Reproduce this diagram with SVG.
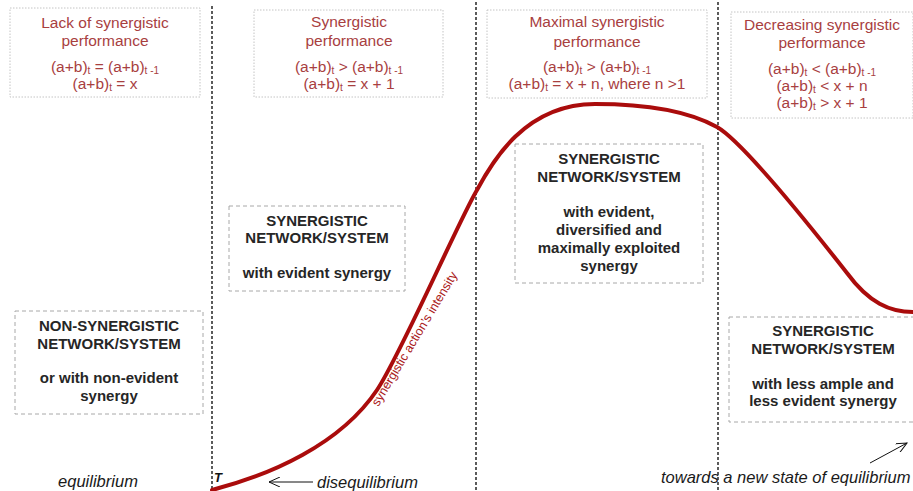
<svg xmlns="http://www.w3.org/2000/svg" width="913" height="491" viewBox="0 0 913 491">
<defs>
<style>
.perf{fill:#ffffff;stroke:#c4c4c4;stroke-width:1;stroke-dasharray:1.5,1.5}
.net{fill:#ffffff;stroke:#a8a8a8;stroke-width:1;stroke-dasharray:4,3}
.rt{font-family:"Liberation Sans",Arial,sans-serif;font-size:15.5px;fill:#a8403f;text-anchor:middle}
.bt{font-family:"Liberation Sans",Arial,sans-serif;font-size:15px;font-weight:bold;fill:#262626;text-anchor:middle}
.it{font-family:"Liberation Sans",Arial,sans-serif;font-size:16.5px;font-style:italic;fill:#1a1a1a}
.sub{font-size:10px}
.sep{stroke:#333;stroke-width:1.6;stroke-dasharray:3,2;fill:none}
.curve{fill:none;stroke:#aa0c0c;stroke-width:4;stroke-linecap:round}
.thin{stroke:#111;stroke-width:1;fill:none}
</style>
<marker id="ah" viewBox="0 0 12 10" refX="11" refY="5" markerWidth="12" markerHeight="10" markerUnits="userSpaceOnUse" orient="auto">
<path d="M0,0 L11,5 L0,10" fill="none" stroke="#111" stroke-width="1"/>
</marker>
</defs>
<rect width="913" height="491" fill="#ffffff"/>

<g id="separators">
<line class="sep" x1="212" y1="6" x2="212" y2="491"/>
<line class="sep" x1="476" y1="2" x2="476" y2="491"/>
<line class="sep" x1="718" y1="2" x2="718" y2="491"/>
</g>

<g id="perf-lack">
<rect class="perf" x="10" y="8" width="190" height="89"/>
<text class="rt" x="105" y="28">Lack of synergistic</text>
<text class="rt" x="105" y="46">performance</text>
<text class="rt" x="105" y="72">(a+b)<tspan class="sub" dy="2">t</tspan><tspan dy="-2"> = (a+b)</tspan><tspan class="sub" dy="2">t -1</tspan></text>
<text class="rt" x="105" y="89">(a+b)<tspan class="sub" dy="2">t</tspan><tspan dy="-2"> = x</tspan></text>
</g>

<g id="perf-synergistic">
<rect class="perf" x="254" y="10" width="189" height="87"/>
<text class="rt" x="349" y="27">Synergistic</text>
<text class="rt" x="349" y="46">performance</text>
<text class="rt" x="349" y="72">(a+b)<tspan class="sub" dy="2">t</tspan><tspan dy="-2"> &gt; (a+b)</tspan><tspan class="sub" dy="2">t -1</tspan></text>
<text class="rt" x="349" y="89">(a+b)<tspan class="sub" dy="2">t</tspan><tspan dy="-2"> = x + 1</tspan></text>
</g>

<g id="perf-maximal">
<rect class="perf" x="487" y="10" width="220" height="88"/>
<text class="rt" x="597" y="27">Maximal synergistic</text>
<text class="rt" x="597" y="47">performance</text>
<text class="rt" x="597" y="72">(a+b)<tspan class="sub" dy="2">t</tspan><tspan dy="-2"> &gt; (a+b)</tspan><tspan class="sub" dy="2">t -1</tspan></text>
<text class="rt" x="597" y="89">(a+b)<tspan class="sub" dy="2">t</tspan><tspan dy="-2"> = x + n, where n &gt;1</tspan></text>
</g>

<g id="perf-decreasing">
<rect class="perf" x="731" y="12" width="182" height="106"/>
<text class="rt" x="822" y="30">Decreasing synergistic</text>
<text class="rt" x="822" y="48">performance</text>
<text class="rt" x="822" y="74">(a+b)<tspan class="sub" dy="2">t</tspan><tspan dy="-2"> &lt; (a+b)</tspan><tspan class="sub" dy="2">t -1</tspan></text>
<text class="rt" x="822" y="91">(a+b)<tspan class="sub" dy="2">t</tspan><tspan dy="-2"> &lt; x + n</tspan></text>
<text class="rt" x="822" y="108">(a+b)<tspan class="sub" dy="2">t</tspan><tspan dy="-2"> &gt; x + 1</tspan></text>
</g>

<g id="connectors">
<path class="curve" d="M212,490 C270,475 340,445 377,390 C400,356 460,218 477,190 C492,162 525,104 595,104 C650,104 690,112 717,127 C745,143 825,245 847,273 C869,303 890,312 913,312"/>
<line class="thin" x1="313" y1="482" x2="269" y2="482" marker-end="url(#ah)"/>
<line class="thin" x1="870" y1="463" x2="907" y2="443" marker-end="url(#ah)"/>
</g>

<g id="curve-label">
<text x="418" y="341" transform="rotate(-59 418 341)" style="font-family:'Liberation Sans',Arial,sans-serif;font-size:12.5px;fill:#aa1a1a;text-anchor:middle">synergistic action’s  intensity</text>
</g>

<g id="net-none">
<rect class="net" x="15" y="311" width="188" height="103"/>
<text class="bt" x="109" y="331">NON-SYNERGISTIC</text>
<text class="bt" x="109" y="349">NETWORK/SYSTEM</text>
<text class="bt" x="109" y="383">or with non-evident</text>
<text class="bt" x="109" y="401">synergy</text>
</g>

<g id="net-evident">
<rect class="net" x="229" y="206" width="176" height="85"/>
<text class="bt" x="317" y="226">SYNERGISTIC</text>
<text class="bt" x="317" y="243">NETWORK/SYSTEM</text>
<text class="bt" x="317" y="278">with evident synergy</text>
</g>

<g id="net-maximal">
<rect class="net" x="515" y="144" width="188" height="139"/>
<text class="bt" x="609" y="164">SYNERGISTIC</text>
<text class="bt" x="609" y="182">NETWORK/SYSTEM</text>
<text class="bt" x="609" y="217">with evident,</text>
<text class="bt" x="609" y="235">diversified and</text>
<text class="bt" x="609" y="253">maximally exploited</text>
<text class="bt" x="609" y="271">synergy</text>
</g>

<g id="net-decreasing">
<rect class="net" x="729" y="317" width="190" height="105"/>
<text class="bt" x="823" y="336">SYNERGISTIC</text>
<text class="bt" x="823" y="354">NETWORK/SYSTEM</text>
<text class="bt" x="823" y="389">with less ample and</text>
<text class="bt" x="823" y="406">less evident synergy</text>
</g>

<g id="states">
<text class="it" x="98" y="487" text-anchor="middle">equilibrium</text>
<text x="214" y="482" style="font-family:'Liberation Sans',Arial,sans-serif;font-size:13px;font-style:italic;font-weight:bold;fill:#111">T</text>
<text class="it" x="317" y="488">disequilibrium</text>
<text class="it" x="661" y="483">towards a new state of equilibrium</text>
</g>
</svg>
